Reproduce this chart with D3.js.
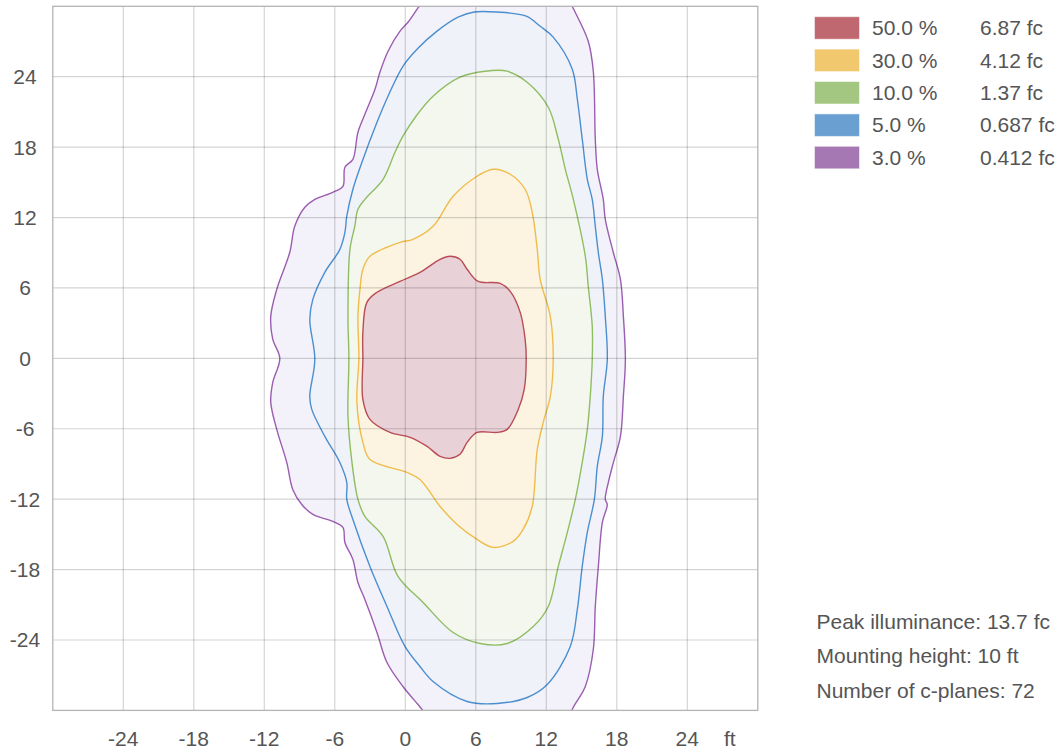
<!DOCTYPE html>
<html>
<head>
<meta charset="utf-8">
<script src="https://cdn.jsdelivr.net/npm/d3@7"></script>
<style>
  html, body { margin: 0; padding: 0; background: #fff; }
  svg { display: block; font-family: "Liberation Sans", Arial, sans-serif; }
</style>
</head>
<body>
<svg id="chart" width="1058" height="755"></svg>
<script>
// Isolux levels (percent of peak and absolute illuminance)
const levelPercent = ["50.0 %", "30.0 %", "10.0 %", "5.0 %", "3.0 %"];
const levelIlluminance = ["6.87 fc", "4.12 fc", "1.37 fc", "0.687 fc", "0.412 fc"];
const levelColor = ["#c0686f", "#f2c86f", "#a3c780", "#6a9fd2", "#a678b3"];
const lineColor = ["#b94c56", "#f0bc4c", "#8fbd62", "#4a8fd0", "#9b5db0"];
const fillColor = ["#e8d1d7", "#fcf4e1", "#f3f7ee", "#f0f2f9", "#f3f1f9"];

// Grid ticks (ft)
const tickValues = [-24, -18, -12, -6, 0, 6, 12, 18, 24];
const axisUnit = "ft";

// Footnotes
const infoLines = ["Peak illuminance: 13.7 fc", "Mounting height: 10 ft", "Number of c-planes: 72"];

// Contour outlines, [x ft, y ft]
const contour50 = [
  [3.81, 8.70], [4.66, 8.44], [5.26, 7.59], [6.20, 6.56], [8.07, 6.39], [8.93, 5.71],
  [9.78, 3.92], [10.20, 1.62], [10.29, -0.09], [10.12, -2.64], [9.61, -4.35], [8.67, -6.05],
  [7.82, -6.31], [6.11, -6.31], [5.26, -7.16], [4.66, -8.18], [3.81, -8.52], [2.96, -8.35],
  [1.85, -7.50], [0.40, -6.73], [-1.30, -6.31], [-3.01, -5.20], [-3.61, -3.50], [-3.61, 0],
  [-3.61, 2.22], [-3.27, 4.77], [-2.41, 5.63], [-0.45, 6.56], [1.25, 7.33], [2.96, 8.44]
];
const contour30 = [
  [7.49, 16.11], [8.93, 15.69], [10.20, 14.41], [10.80, 12.45], [11.23, 9.29], [11.48, 6.73],
  [12.34, 3.58], [12.59, -0.09], [12.34, -3.24], [11.74, -5.46], [11.23, -7.76], [10.80, -12.62],
  [10.03, -14.58], [9.18, -15.60], [7.49, -16.11], [6.11, -15.43], [4.41, -14.15], [2.96, -12.62],
  [1.25, -10.32], [0.14, -9.72], [-3.01, -8.61], [-3.61, -7.16], [-4.12, -3.75], [-3.95, 0],
  [-4.03, 3.58], [-3.86, 5.88], [-3.61, 7.59], [-3.01, 8.70], [-0.45, 9.89], [0.65, 10.14],
  [2.36, 11.25], [4.07, 13.81], [6.11, 15.52]
];
const contour10 = [
  [6.79, 24.47], [8.67, 24.47], [10.37, 23.53], [12.17, 21.40], [13.02, 18.67], [13.62, 16.11],
  [14.30, 13.55], [15.32, 8.70], [15.57, 6.14], [15.91, 2.73], [15.91, -0.09], [15.74, -3.24],
  [15.49, -6.05], [15.06, -8.87], [14.47, -12.02], [13.79, -14.83], [13.02, -17.73], [12.17, -21.14],
  [10.89, -22.85], [8.67, -24.30], [6.37, -24.30], [4.07, -23.36], [1.51, -20.80], [-0.62, -18.58],
  [-1.89, -15.17], [-3.44, -13.47], [-4.03, -12.02], [-4.54, -8.87], [-4.88, -4.94], [-4.80, 0],
  [-4.88, 3.58], [-4.71, 9.29], [-4.30, 11.25], [-4.03, 12.70], [-3.44, 13.55], [-1.89, 15.26],
  [-0.88, 17.56], [-0.20, 18.93], [0.91, 20.63], [2.36, 22.34], [4.66, 23.96]
];
const contour5 = [
  [5.86, 29.51], [7.74, 29.51], [10.29, 29.16], [11.48, 28.30], [12.59, 27.37], [14.21, 24.64],
  [14.64, 22.08], [15.06, 18.67], [15.49, 15.26], [15.91, 13.55], [16.17, 11.25], [16.43, 9.00],
  [16.77, 6.73], [17.02, 3.58], [17.19, -0.09], [16.85, -3.24], [16.77, -6.65], [16.34, -9.21],
  [16.09, -12.02], [15.49, -14.83], [15.06, -17.73], [14.64, -21.40], [14.04, -24.55], [12.08, -27.79],
  [10.37, -28.90], [7.82, -29.41], [5.26, -29.24], [2.36, -27.54], [1.25, -26.26], [-0.03, -24.55],
  [-1.56, -21.14], [-3.01, -17.73], [-4.46, -13.73], [-4.98, -12.02], [-4.98, -10.57], [-5.57, -8.87],
  [-6.85, -6.65], [-7.96, -4.35], [-8.13, -3.24], [-7.70, -0.09], [-8.13, 3.32], [-7.87, 5.03],
  [-6.85, 7.33], [-5.57, 9.29], [-5.14, 10.74], [-4.98, 12.11], [-4.46, 14.41], [-3.69, 16.71],
  [-2.41, 20.12], [-1.47, 22.34], [-0.20, 24.89], [1.08, 26.42], [2.70, 27.88], [4.49, 29.07]
];
// The 3 % line runs past the top and bottom of the grid
const contour3 = [
  [2.2, 31.4], [1.17, 30.0], [0.23, 28.64], [-0.45, 27.88], [-1.47, 26.17], [-2.16, 24.38],
  [-2.58, 22.93], [-3.44, 20.80], [-4.03, 19.27], [-4.46, 16.96], [-5.14, 16.28], [-5.31, 14.66],
  [-6.17, 14.15], [-7.70, 13.55], [-8.55, 12.87], [-9.41, 11.25], [-9.83, 9.04], [-10.94, 5.88],
  [-11.45, 3.58], [-11.28, 1.62], [-10.68, 0], [-11.28, -2.05], [-11.45, -3.75], [-10.94, -6.05],
  [-10.09, -8.87], [-9.58, -11.17], [-8.81, -12.45], [-7.87, -13.30], [-6.17, -13.90], [-5.31, -14.41],
  [-5.14, -15.69], [-4.46, -17.14], [-4.03, -19.10], [-3.44, -20.55], [-2.41, -23.36], [-1.56, -25.92],
  [-0.20, -27.96], [1.08, -29.50], [1.42, -29.92], [2.3, -31.3], [3.0, -33.5], [13.0, -33.5],
  [13.8, -31.3], [14.21, -29.92], [15.32, -27.96], [16.00, -24.81], [16.17, -21.14], [16.43, -17.73],
  [16.77, -13.98], [17.19, -12.45], [17.02, -12.02], [17.28, -10.57], [17.71, -8.87], [18.31, -6.65],
  [18.56, -3.24], [18.73, -0.09], [18.56, 3.58], [18.31, 6.73], [17.71, 9.00], [17.02, 11.85],
  [16.85, 13.55], [16.34, 16.11], [16.17, 18.67], [16.00, 24.47], [15.57, 27.02], [14.21, 30.0],
  [13.5, 31.5], [13.0, 33.5], [3.0, 33.5]
];
const contours = [contour50, contour30, contour10, contour5, contour3];

const svg = d3.select("#chart");
const x = d3.scaleLinear().domain([-30, 30]).range([52.8, 757.8]);
const y = d3.scaleLinear().domain([-30, 30]).range([710.4, 6.3]);

const plotW = x(30) - x(-30), plotH = y(-30) - y(30);

svg.append("defs").append("clipPath").attr("id", "plot-clip")
  .append("rect")
  .attr("x", x(-30)).attr("y", y(30))
  .attr("width", plotW).attr("height", plotH);

const line = d3.line()
  .x(d => x(d[0])).y(d => y(d[1]))
  .curve(d3.curveCatmullRomClosed.alpha(0.5));

const plot = svg.append("g").attr("clip-path", "url(#plot-clip)");

// Filled areas, outermost first
const order = [4, 3, 2, 1, 0];
plot.selectAll("path.area")
  .data(order)
  .join("path")
  .attr("class", "area")
  .attr("d", i => line(contours[i]))
  .attr("fill", i => fillColor[i])
  .attr("stroke", "none");

// Grid
const grid = svg.append("g");
grid.selectAll("line.vx")
  .data(tickValues)
  .join("line")
  .attr("x1", d => x(d)).attr("x2", d => x(d))
  .attr("y1", y(30)).attr("y2", y(-30))
  .attr("stroke", "rgba(0,0,0,0.17)").attr("stroke-width", 1.2);
grid.selectAll("line.hy")
  .data(tickValues)
  .join("line")
  .attr("y1", d => y(d)).attr("y2", d => y(d))
  .attr("x1", x(-30)).attr("x2", x(30))
  .attr("stroke", "rgba(0,0,0,0.17)").attr("stroke-width", 1.2);

// Contour lines
plot.selectAll("path.iso")
  .data(order)
  .join("path")
  .attr("class", "iso")
  .attr("d", i => line(contours[i]))
  .attr("fill", "none")
  .attr("stroke", i => lineColor[i])
  .attr("stroke-width", 1.4)
  .attr("stroke-linejoin", "round");

// Plot frame
svg.append("rect")
  .attr("x", x(-30)).attr("y", y(30))
  .attr("width", plotW).attr("height", plotH)
  .attr("fill", "none").attr("stroke", "#b4b4b4").attr("stroke-width", 1.3);

// Axis labels
const labelStyle = sel => sel.attr("fill", "#555").attr("font-size", 21);
svg.append("g").selectAll("text")
  .data(tickValues)
  .join("text")
  .attr("x", d => x(d)).attr("y", 746)
  .attr("text-anchor", "middle")
  .text(d => d)
  .call(labelStyle);
svg.append("text")
  .attr("x", x(30) - 28).attr("y", 746)
  .attr("text-anchor", "middle")
  .text(axisUnit)
  .call(labelStyle);
svg.append("g").selectAll("text")
  .data(tickValues)
  .join("text")
  .attr("x", 25).attr("y", d => y(d) + 7.5)
  .attr("text-anchor", "middle")
  .text(d => d)
  .call(labelStyle);

// Legend
const legend = svg.append("g");
const rows = legend.selectAll("g")
  .data(levelPercent.map((p, i) => i))
  .join("g")
  .attr("transform", i => `translate(814.5, ${16.7 + i * 32.4})`);
rows.append("rect")
  .attr("width", 45).attr("height", 22.5)
  .attr("fill", i => levelColor[i])
  .attr("stroke", "rgba(255,255,255,0.5)").attr("stroke-width", 1);
rows.append("text")
  .attr("x", 57.5).attr("y", 18.5)
  .text(i => levelPercent[i])
  .call(labelStyle);
rows.append("text")
  .attr("x", 165.5).attr("y", 18.5)
  .text(i => levelIlluminance[i])
  .call(labelStyle);

// Footnotes
svg.append("g").selectAll("text")
  .data(infoLines)
  .join("text")
  .attr("x", 816.5).attr("y", (d, i) => 628.5 + i * 34.5)
  .text(d => d)
  .call(labelStyle);
</script>
</body>
</html>
